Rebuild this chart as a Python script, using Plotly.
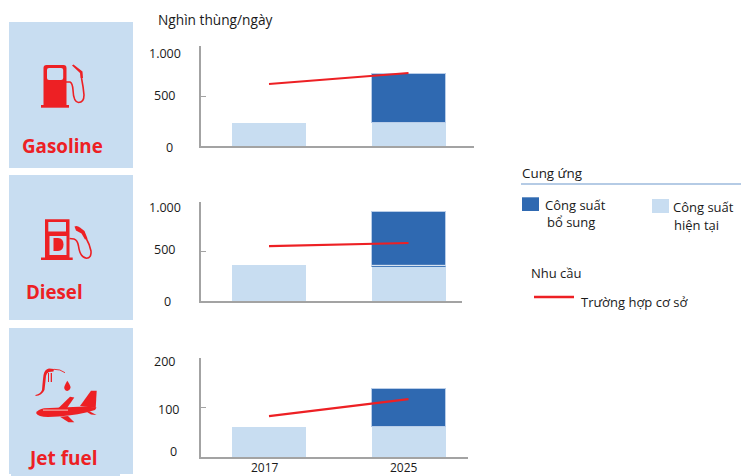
import re
import plotly.graph_objects as go

W, H = 744, 476
years = ["2017", "2025"]

gasoline_existing = [227, 227]
gasoline_added = [None, 497]
gasoline_demand = [620, 730]
gasoline_ticks = [0, 500, 1000]
gasoline_ticktext = ["0", "500", "1.000"]

diesel_existing = [364, 353]
diesel_added = [None, 543]
diesel_demand = [558, 589]
diesel_ticks = [0, 500, 1000]
diesel_ticktext = ["0", "500", "1.000"]

jet_existing = [62, 61]
jet_added = [None, 77]
jet_demand = [83, 117]
jet_ticks = [0, 100, 200]
jet_ticktext = ["0", "100", "200"]

LIGHT = "#c8ddf1"
DARK = "#2f69b1"
EDGE = "#b9cde8"
RED = "#ed2024"
GREY = "#a3a3a3"
TXT = "#1a1a1a"
FONT = "Open Sans"


def px(x):
    return x / W


def py(y):
    return 1 - y / H


def ann(text, x, y, size=13, color=TXT, anchor="left", bold=False):
    return dict(
        text=f"<b>{text}</b>" if bold else text,
        x=px(x), y=py(y), xref="paper", yref="paper", showarrow=False,
        xanchor=anchor, yanchor="middle", borderpad=0, borderwidth=0,
        font=dict(family=FONT, size=size, color=color),
    )


def rect(x0, y0, x1, y1, color):
    return dict(type="rect", xref="paper", yref="paper", x0=px(x0), x1=px(x1),
                y0=py(y0), y1=py(y1), fillcolor=color, line=dict(width=0), layer="below")


def path(d, fill=RED, stroke=None, width=0):
    # d is written in window pixels; converted to paper fractions
    nums = iter(re.findall(r"[A-Za-z]|-?[\d.]+", d))
    out, is_x = [], True
    for tok in nums:
        if tok.isalpha():
            out.append(tok)
            is_x = True
        else:
            v = float(tok)
            out.append(f"{px(v):.5f}," if is_x else f"{py(v):.5f}")
            is_x = not is_x
    s = " ".join(out).replace(", ", ",")
    return dict(type="path", xref="paper", yref="paper", path=s,
                fillcolor=fill if fill else "rgba(0,0,0,0)",
                line=dict(color=stroke if stroke else "rgba(0,0,0,0)", width=width))


fig = go.Figure()

panels = [
    dict(name="Gasoline", existing=gasoline_existing, added=gasoline_added, demand=gasoline_demand,
         ticks=gasoline_ticks, text=gasoline_ticktext, top=46, bottom=146, right=473.5,
         label_y=[147, 96, 53], label_right=[173, 175, 181]),
    dict(name="Diesel", existing=diesel_existing, added=diesel_added, demand=diesel_demand,
         ticks=diesel_ticks, text=diesel_ticktext, top=202.3, bottom=301.3, right=462,
         label_y=[301, 249, 207], label_right=[171, 175, 181]),
    dict(name="Jet fuel", existing=jet_existing, added=jet_added, demand=jet_demand,
         ticks=jet_ticks, text=jet_ticktext, top=358, bottom=457.3, right=468,
         label_y=[451, 409, 361], label_right=[177, 179, 175]),
]

BAR_C0, BAR_STEP, BAR_W, AXIS_L = 269, 139.5, 74, 200.7
layout_axes = {}
annotations = []

for i, p in enumerate(panels, start=1):
    s = "" if i == 1 else str(i)
    xa, ya = f"x{s}", f"y{s}"
    fig.add_trace(go.Bar(x=years, y=p["existing"], xaxis=xa, yaxis=ya, width=BAR_W / BAR_STEP,
                         marker=dict(color=LIGHT, line=dict(width=0)), showlegend=False))
    fig.add_trace(go.Bar(x=years, y=p["added"], xaxis=xa, yaxis=ya, width=BAR_W / BAR_STEP,
                         marker=dict(color=DARK, line=dict(width=1, color=EDGE)), showlegend=False))
    fig.add_trace(go.Scatter(x=years, y=p["demand"], xaxis=xa, yaxis=ya, mode="lines",
                             line=dict(color=RED, width=2.2), showlegend=False))
    layout_axes[f"xaxis{s}"] = dict(
        type="category", categoryorder="array", categoryarray=years,
        domain=[px(AXIS_L), px(p["right"])],
        range=[(AXIS_L - BAR_C0) / BAR_STEP, (p["right"] - BAR_C0) / BAR_STEP],
        anchor=ya, showline=True, linecolor=GREY, linewidth=1.5, showgrid=False,
        ticks="", showticklabels=False, zeroline=False, fixedrange=True,
    )
    layout_axes[f"yaxis{s}"] = dict(
        domain=[py(p["bottom"]), py(p["top"])],
        range=[p["ticks"][0], p["ticks"][-1]], tickmode="array", tickvals=p["ticks"],
        anchor=xa, showline=True, linecolor=GREY, linewidth=1.5, showgrid=False,
        ticks="inside", ticklen=6, tickcolor=GREY, tickwidth=1.2,
        showticklabels=False, zeroline=False, fixedrange=True,
    )
    for t, y, r in zip(p["text"], p["label_y"], p["label_right"]):
        annotations.append(ann(t, r, y, size=12.5, anchor="right"))

annotations.append(ann(years[0], 264.5, 467, size=12, anchor="center"))
annotations.append(ann(years[1], 404, 467, size=12, anchor="center"))
annotations += [
    ann("Nghìn thùng/ngày", 158, 20, size=13.7),
    ann("Gasoline", 63, 146, size=18.8, color=RED, anchor="center", bold=True),
    ann("Diesel", 54.5, 291.5, size=18.7, color=RED, anchor="center", bold=True),
    ann("Jet fuel", 63, 458, size=19, color=RED, anchor="center", bold=True),
    ann("Cung ứng", 522, 173, size=13.4),
    ann("Công suất", 545, 205),
    ann("bổ sung", 547, 222),
    ann("Công suất", 673, 207),
    ann("hiện tại", 674, 225),
    ann("Nhu cầu", 531, 273),
    ann("Trường hợp cơ sở", 581, 302),
]

half = BAR_W / BAR_STEP / 2
shapes = [
    rect(9, 22, 133, 168, LIGHT),
    rect(9, 175, 133, 320, LIGHT),
    rect(9, 328, 133, 474, LIGHT),
    rect(11, 474, 120, 476, LIGHT),
    rect(522, 197.3, 539, 211, DARK),
    rect(652, 199, 669, 213, LIGHT),
    dict(type="line", xref="paper", yref="paper", x0=px(521), x1=px(741), y0=py(184), y1=py(184),
         line=dict(color="#9cbadd", width=1.5)),
    dict(type="line", xref="paper", yref="paper", x0=px(534), x1=px(574), y0=py(297), y1=py(297),
         line=dict(color=RED, width=2.5)),
    # seam between the two Diesel 2025 segments: pale above, blue below
    dict(type="line", xref="x2", yref="y2", x0=1 - half, x1=1 + half,
         y0=diesel_existing[1] + 10, y1=diesel_existing[1] + 10, line=dict(color="white", width=1)),
    dict(type="line", xref="x2", yref="y2", x0=1 - half, x1=1 + half,
         y0=diesel_existing[1], y1=diesel_existing[1], line=dict(color=DARK, width=1)),
    # Gasoline pump
    path("M43.5 68 Q43.5 65 46.5 65 L63.5 65 Q66.5 65 66.5 68 L66.5 105 L43.5 105 Z"),
    path("M47 70 Q47 68 49 68 L61 68 Q63.2 68 63.2 70 L63.2 78 Q63.2 80 61 80 L49 80 Q47 80 47 78 Z", fill=LIGHT),
    rect(41, 105, 69, 107.7, RED),
    path("M66 82 L70 82 Q72.5 83 73 90 Q73.5 102 78.5 102.5 Q84 102.5 84 95 Q83.5 88 81.5 78", fill=None, stroke=RED, width=1.6),
    path("M72 65.5 L73.5 64.5 L82.5 71.5 L83 78 L80.5 78 L80 73 Z"),
    # Diesel pump
    path("M45 219.3 L69.5 219.3 L69.5 258 L45 258 Z"),
    path("M48.3 222 L66 222 L66 231.5 L48.3 231.5 Z", fill=LIGHT),
    path("M49.5 236 L66.5 236 L66.5 255 L49.5 255 Z", fill=LIGHT),
    path("M53.5 238 L58 238 Q63.5 238.5 63.5 244.5 Q63.5 251 58 251 L53.5 251 Z"),
    rect(41, 257.5, 72.7, 260, RED),
    path("M69.5 238.5 L74 239 Q77.5 240 78.5 246 Q80 257.5 86.5 258.2 Q91.5 258 91 251 Q89.5 244 86 238", fill=None, stroke=RED, width=1.6),
    path("M74.5 226.5 Q77 225 80 227.5 L84.5 231 L87.5 238.5 L85 239.5 L81.5 233.5 L76 230.5 Z"),
    # Jet fuel: nozzle, drop and aircraft
    path("M35.5 395 Q40.5 394 42 390 Q42.8 380 43.5 375 Q44.5 369.5 49 368.5 L54 369 L53.5 371.5 L49 372 Q46.5 373 46 376 Q45.5 382 44.5 390 Q42 395.5 35.5 396 Z"),
    path("M54 369.3 Q60 369 65 372.7", fill=None, stroke=RED, width=0.9),
    path("M48 373 L49 373 L49 382 L48 382 Z"),
    path("M50.7 373 L52 373 L52 382 L50.7 382 Z"),
    path("M67.3 380.7 Q71 386 70.5 388 Q69.5 391 67.3 391 Q65 391 64.2 388 Q64 386 67.3 380.7 Z"),
    path("M36 413 Q38 409.5 44 408.3 L85 406.5 L96.5 407.5 L95 410 L86 412.5 Q70 416.5 48 417 Q38 417 36 413 Z"),
    path("M58 408.5 L70 396.7 L74.3 397.5 L67 408 Z"),
    path("M80 406 L91 390.7 L96.7 390.7 L95.7 408 Z"),
    path("M60 416.8 L68.5 422.3 L74.3 422.3 L68 416 Z"),
    path("M89 411 L96.5 415 L91 414.5 L87 412 Z"),
    path("M43 409.6 L68 409.6 L68 410.6 L43 410.6 Z", fill="#f6c9c4"),
]

fig.update_layout(
    width=W, height=H, margin=dict(l=0, r=0, t=0, b=0),
    paper_bgcolor="white", plot_bgcolor="rgba(0,0,0,0)",
    barmode="stack", bargap=0, showlegend=False,
    annotations=annotations, shapes=shapes,
    **layout_axes,
)
fig.write_html("out.html", config=dict(displayModeBar=False),
               post_script="document.body.style.margin='0';document.documentElement.style.overflow='hidden';")
